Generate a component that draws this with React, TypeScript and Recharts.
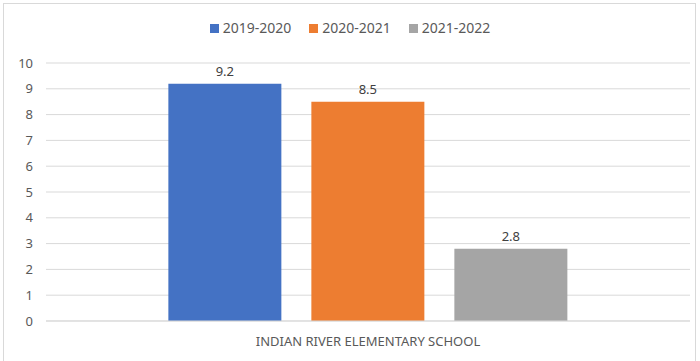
import React from 'react';
import { BarChart, Bar, XAxis, YAxis, CartesianGrid, Legend, LabelList } from 'recharts';

const schools = ['INDIAN RIVER ELEMENTARY SCHOOL'];
const years = ['2019-2020', '2020-2021', '2021-2022'];
const values2019 = [9.2];
const values2020 = [8.5];
const values2021 = [2.8];
const yTicks = [0, 1, 2, 3, 4, 5, 6, 7, 8, 9, 10];

const colors = ['#4472C4', '#ED7D31', '#A5A5A5'];
const seriesValues = [values2019, values2020, values2021];

const data = schools.map((school, i) => ({
  school,
  [years[0]]: seriesValues[0][i],
  [years[1]]: seriesValues[1][i],
  [years[2]]: seriesValues[2][i],
}));

const FONT = '"Noto Sans", "Liberation Sans", sans-serif';

const LegendContent = ({ payload }: any) => (
  <div style={{ display: 'flex', justifyContent: 'center', fontFamily: FONT, fontSize: 14, lineHeight: '18px', color: '#595959' }}>
    {(payload || []).map((p: any, i: number) => (
      <div key={i} style={{ display: 'flex', alignItems: 'center', marginRight: i < payload.length - 1 ? 18 : 0 }}>
        <span style={{ width: 9, height: 9, background: p.color, display: 'inline-block', marginRight: 4 }} />
        <span>{p.value}</span>
      </div>
    ))}
  </div>
);

export default function App() {
  return (
    <div style={{ position: 'relative', width: 700, height: 361, background: '#fff', overflow: 'hidden' }}>
      <style>{'body{margin:0}'}</style>
      <div style={{ position: 'absolute', left: 3, top: 3, width: 693, height: 362, border: '1px solid #d9d9d9', boxSizing: 'border-box' }} />
      <BarChart
        width={700}
        height={361}
        data={data}
        margin={{ top: 45, right: 10, left: 0, bottom: 10 }}
        barCategoryGap="19%"
        barGap={30}
      >
        <CartesianGrid vertical={false} stroke="#d9d9d9" />
        <XAxis
          dataKey="school"
          height={30}
          axisLine={{ stroke: '#d9d9d9' }}
          tickLine={false}
          tick={{ fill: '#595959', fontSize: 13, fontFamily: FONT }}
          tickMargin={10}
        />
        <YAxis
          width={46}
          domain={[0, 10]}
          ticks={yTicks}
          interval={0}
          axisLine={false}
          tickLine={false}
          tickMargin={7}
          tick={{ fill: '#595959', fontSize: 13, fontFamily: FONT }}
        />
        <Legend
          verticalAlign="top"
          align="center"
          content={<LegendContent />}
          wrapperStyle={{ top: 19, left: 0, width: 700 }}
        />
        {years.map((y, i) => (
          <Bar key={y} dataKey={y} fill={colors[i]} isAnimationActive={false}>
            <LabelList dataKey={y} position="top" offset={8} fill="#404040" fontSize={13} fontFamily={FONT} />
          </Bar>
        ))}
      </BarChart>
    </div>
  );
}
